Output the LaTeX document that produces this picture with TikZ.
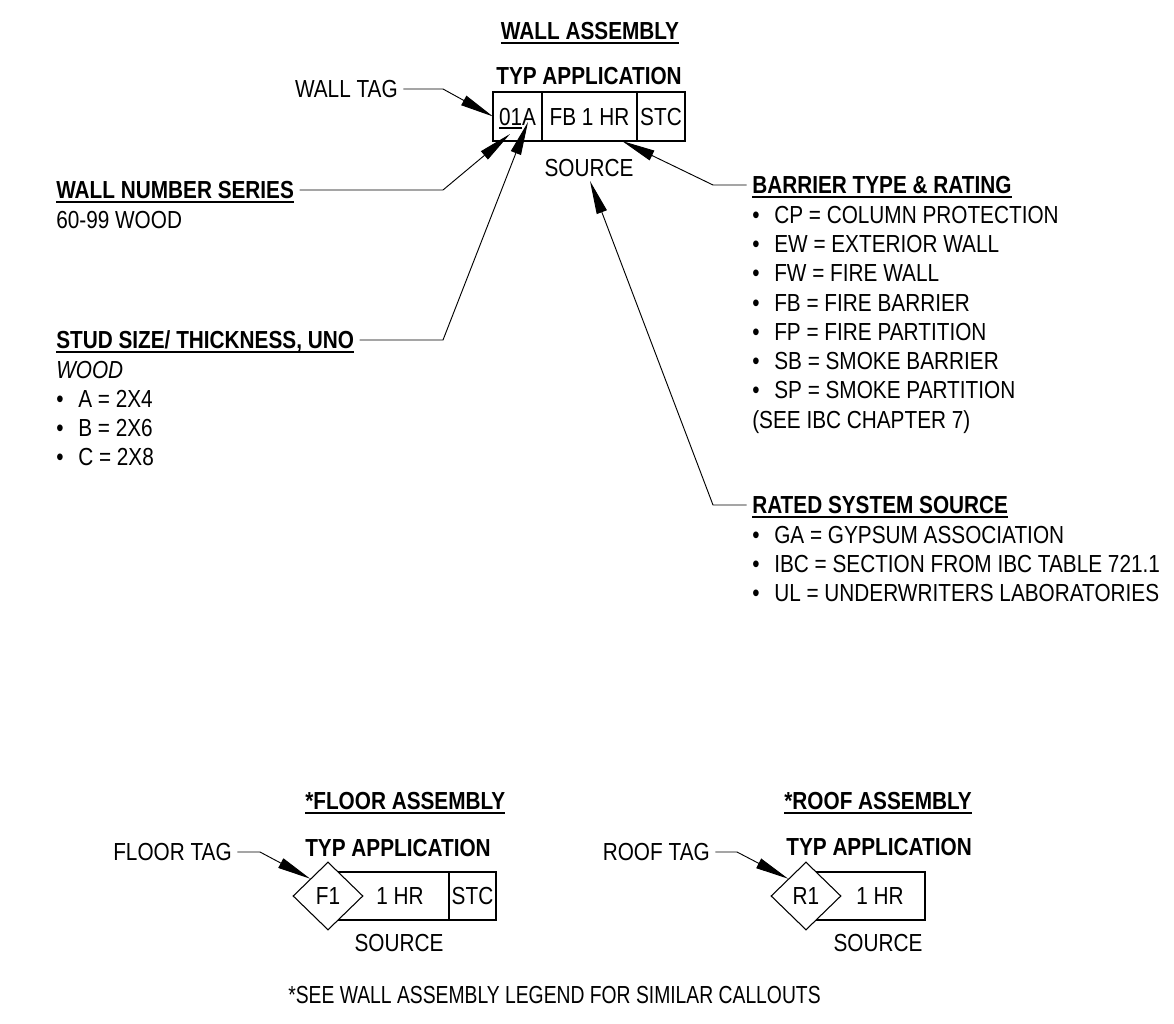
\documentclass[tikz,border=0pt]{standalone}
\usepackage{fontspec}
\usepackage{graphicx}
\setmainfont{Liberation Sans}[FakeStretch=0.842]
\usetikzlibrary{arrows.meta,shapes.geometric}
\newsavebox{\ulbox}
\newcommand{\undl}[1]{\sbox{\ulbox}{#1}\rlap{\rule[-3pt]{\wd\ulbox}{1.5pt}}\usebox{\ulbox}}
\newcommand{\hd}[1]{\textbf{\undl{#1}}}
\newcommand{\bul}[1]{\makebox[16.5pt][l]{\textbullet}#1}

\begin{document}
\fontsize{18.5}{20}\selectfont
\begin{tikzpicture}[x=0.75pt,y=-0.75pt,
  lbl/.style={inner sep=0pt,text height=13.25pt,text depth=0pt},
  cell/.style={lbl,draw,line width=0.8pt,minimum height=36.75pt,outer sep=0pt},
  tagdia/.style={lbl,diamond,draw,fill=white,line width=0.8pt,minimum width=52.5pt,minimum height=51pt},
  lead/.style={line width=0.7pt,shorten <=4pt,-{Triangle[length=25pt,width=8pt]}}]
\useasboundingbox (0,0) rectangle (1174,1024);

% wall assembly tag
\node[lbl] (wallhd) at (590,31) {\hd{WALL ASSEMBLY}};
\node[lbl,font=\bfseries] (walltyp) at (589,76) {TYP APPLICATION};
\node[cell,minimum width=36.75pt,anchor=north west] (wtag) at (493,92) {\undl{01}A};
\node[cell,minimum width=71.25pt,anchor=north west] (wrate) at (wtag.north east) {FB 1 HR};
\node[cell,minimum width=36pt,anchor=north west] (wstc) at (wrate.north east) {STC};
\node[lbl] (wsrc) at (589,168) {SOURCE};

\node[lbl,anchor=east] (walltag) at (398,89) {WALL TAG};
\coordinate (wtbend) at (443,89);
\draw[lead] (walltag.east) -- (wtbend) -- (wtag.west);

% left notes
\node[lbl,anchor=west] (numhd) at (56,190) {\hd{WALL NUMBER SERIES}};
\node[lbl,anchor=west] (numwood) at (56,220) {60-99 WOOD};
\coordinate (numbend) at (443,190);
\coordinate (numtip) at (510,134);
\draw[lead] (numhd.east) -- (numbend) -- (numtip);

\node[lbl,anchor=west] (studhd) at (56,340) {\hd{STUD SIZE/ THICKNESS, UNO}};
\node[lbl,anchor=west] (studwood) at (56,370) {\textit{WOOD}};
\foreach \t [count=\j] in {A = 2X4, B = 2X6, C = 2X8}
    \node[lbl,anchor=west] (stud-\j) at (56,370+29*\j) {\bul{\t}};
\coordinate (studbend) at (443,340);
\coordinate (studtip) at (528,122);
\draw[lead] (studhd.east) -- (studbend) -- (studtip);

% right notes
\node[lbl,anchor=west] (barhd) at (752,185) {\hd{BARRIER TYPE \& RATING}};
\foreach \t [count=\j] in {CP = COLUMN PROTECTION, EW = EXTERIOR WALL, FW = FIRE WALL,
    FB = FIRE BARRIER, FP = FIRE PARTITION, SB = SMOKE BARRIER, SP = SMOKE PARTITION}
    \node[lbl,anchor=west] (bar-\j) at (752,185+29.3*\j) {\bul{\t}};
\node[lbl,anchor=west] (barsee) at (752,420) {(SEE IBC CHAPTER 7)};
\coordinate (barbend) at (713,185);
\coordinate (bartip) at (622,141);
\draw[lead] (barhd.west) -- (barbend) -- (bartip);

\node[lbl,anchor=west] (srchd) at (752,505) {\hd{RATED SYSTEM SOURCE}};
\foreach \t [count=\j] in {GA = GYPSUM ASSOCIATION, IBC = SECTION FROM IBC TABLE 721.1,
    UL = UNDERWRITERS LABORATORIES}
    \node[lbl,anchor=west] (src-\j) at (752,505+29.3*\j) {\bul{\t}};
\coordinate (srcbend) at (713,505);
\coordinate (srctip) at (590,181);
\draw[lead] (srchd.west) -- (srcbend) -- (srctip);

% floor assembly tag
\node[lbl,anchor=west] (flrhd) at (305,801) {\hd{*FLOOR ASSEMBLY}};
\node[lbl,anchor=west,font=\bfseries] (flrtyp) at (305,848) {TYP APPLICATION};
\node[cell,minimum width=90.75pt,minimum height=36pt,anchor=north west] (fmain) at (328,872) {};
\node[cell,minimum width=35.25pt,minimum height=36pt,anchor=north west] (fstc) at (fmain.north east) {STC};
\node[tagdia] (fdia) at (fmain.west) {F1};
\node[lbl] (fhr) at (400,896) {1 HR};
\node[lbl] (fsrc) at (399,943) {SOURCE};
\node[lbl,anchor=east] (flrtag) at (232,852) {FLOOR TAG};
\coordinate (flrbend) at (260,852);
\draw[lead] (flrtag.east) -- (flrbend) -- (fdia.north west);

% roof assembly tag
\node[lbl,anchor=east] (rfhd) at (972,801) {\hd{*ROOF ASSEMBLY}};
\node[lbl,anchor=east,font=\bfseries] (rftyp) at (972,847) {TYP APPLICATION};
\node[cell,minimum width=89.25pt,minimum height=36pt,anchor=north west] (rmain) at (806,872) {};
\node[tagdia] (rdia) at (rmain.west) {R1};
\node[lbl] (rhr) at (880,896) {1 HR};
\node[lbl] (rsrc) at (878,943) {SOURCE};
\node[lbl,anchor=east] (rftag) at (710,852) {ROOF TAG};
\coordinate (rfbend) at (737,852);
\draw[lead] (rftag.east) -- (rfbend) -- (rdia.north west);

\node[lbl,anchor=west] (seenote) at (288,995) {\scalebox{0.93}[1]{*SEE WALL ASSEMBLY LEGEND FOR SIMILAR CALLOUTS}};
\end{tikzpicture}
\end{document}
